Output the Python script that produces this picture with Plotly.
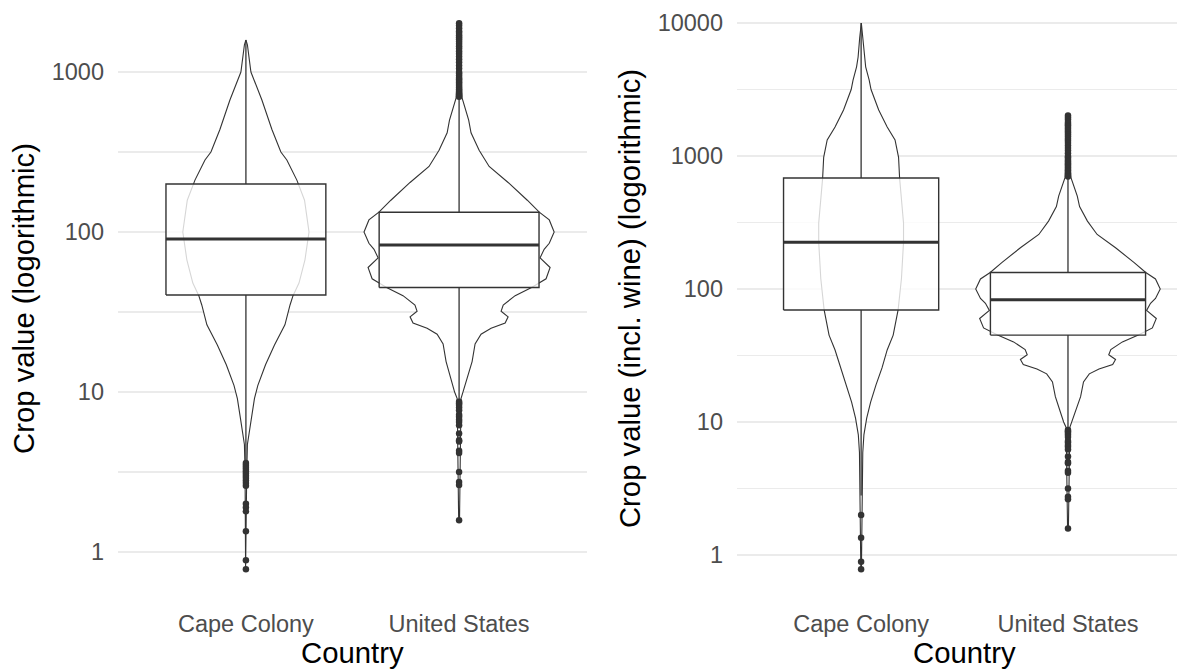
import plotly.graph_objects as go

# ---------------- data ----------------
categories = ["Cape Colony", "United States"]

# Box statistics (q1, median, q3, lower whisker end, upper whisker end)
cape_crop_stats = [40.4, 90.4, 199.5, 3.65, 1585]
us_crop_stats = [45.0, 83.0, 133.0, 8.9, 690]
cape_wine_stats = [69.5, 225.0, 684.0, 2.8, 10000]

# Violin outlines: crop value and half-width (relative density, category units)
cape_crop_vals = [1585, 1480, 1000, 668, 437, 316, 282, 211, 158, 100, 67, 48, 40, 35, 26.3,
                  19.7, 14.8, 11.0, 9.1, 6.9, 4.7, 3.2, 0.78]
cape_crop_dens = [0.0, 0.007, 0.0235, 0.075, 0.122, 0.164, 0.192, 0.239, 0.275, 0.296, 0.277,
                  0.249, 0.221, 0.207, 0.183, 0.134, 0.092, 0.056, 0.040, 0.026, 0.007, 0.004, 0.0015]

us_vals = [2020, 1000, 690, 500, 417, 324, 257, 204, 158, 133, 119, 100, 85, 78, 69, 60, 51,
           45, 40, 35, 32, 29.5, 27, 25, 23, 20, 15.5, 12.3, 10.0, 9.1, 1.58]
us_dens = [0.002, 0.007, 0.014, 0.045, 0.056, 0.094, 0.141, 0.230, 0.320, 0.376, 0.423, 0.446,
           0.423, 0.399, 0.380, 0.427, 0.408, 0.340, 0.263, 0.207, 0.197, 0.230, 0.216, 0.150,
           0.103, 0.075, 0.061, 0.040, 0.021, 0.009, 0.002]

cape_wine_vals = [10000, 7700, 5550, 4680, 3715, 3160, 2220, 1650, 1320, 977, 684, 313, 225,
                  120, 70, 45, 34.8, 25.5, 19.0, 14.1, 10.7, 8.0, 5.9, 2.8, 0.79]
cape_wine_dens = [0.001, 0.007, 0.0145, 0.022, 0.039, 0.048, 0.085, 0.126, 0.164, 0.181, 0.186,
                  0.205, 0.205, 0.195, 0.179, 0.155, 0.126, 0.101, 0.072, 0.046, 0.027, 0.0135,
                  0.008, 0.006, 0.0015]

# Outliers
cape_crop_out = [3.6, 3.5, 3.4, 3.3, 3.2, 3.1, 3.0, 2.9, 2.8, 2.7, 2.6, 2.0, 1.9, 1.8, 1.35, 0.89, 0.78]
us_out = [2020, 1950, 1880, 1800, 1750, 1700, 1650, 1600, 1550, 1500, 1450, 1400, 1350, 1300,
          1250, 1200, 1150, 1100, 1050, 1000, 980, 950, 920, 900, 880, 860, 840, 820, 800, 780,
          760, 740, 720, 700,
          8.7, 8.5, 8.3, 8.0, 7.7, 7.2, 7.0, 6.7, 6.5, 6.2, 5.5, 5.0, 4.9, 4.3, 4.16, 3.16,
          2.74, 2.62, 1.58]
cape_wine_out = [2.0, 1.35, 0.89, 0.78]

y_ticks_left = [1, 10, 100, 1000]
y_ticks_right = [1, 10, 100, 1000, 10000]
y_minor_left = [3.162, 31.62, 316.2]
y_minor_right = [3.162, 31.62, 316.2, 3162]

# ---------------- style ----------------
DARK = "#333333"
FONT = "Liberation Sans, Arial, sans-serif"
TICK_SIZE = 23.5
TITLE_SIZE = 29.3
BOX_W = 0.75

fig = go.Figure()


def add_group(pos, stats, vals, dens, outs, xa, ya):
    # violin
    vx = [pos + d for d in dens] + [pos - d for d in reversed(dens)]
    vy = list(vals) + list(reversed(vals))
    vx.append(vx[0]); vy.append(vy[0])
    fig.add_trace(go.Scatter(x=vx, y=vy, mode="lines", fill="toself", fillcolor="white",
                             line=dict(color=DARK, width=1.1), xaxis=xa, yaxis=ya,
                             hoverinfo="skip", showlegend=False))
    q1, med, q3, lo, hi = stats
    h = BOX_W / 2
    # whiskers
    fig.add_trace(go.Scatter(x=[pos, pos, None, pos, pos], y=[q3, hi, None, q1, lo], mode="lines",
                             line=dict(color=DARK, width=1.3), xaxis=xa, yaxis=ya,
                             hoverinfo="skip", showlegend=False))
    # box
    fig.add_trace(go.Scatter(x=[pos - h, pos + h, pos + h, pos - h, pos - h],
                             y=[q1, q1, q3, q3, q1], mode="lines", fill="toself",
                             fillcolor="rgba(255,255,255,0.8)",
                             line=dict(color=DARK, width=1.4), xaxis=xa, yaxis=ya,
                             hoverinfo="skip", showlegend=False))
    # median
    fig.add_trace(go.Scatter(x=[pos - h, pos + h], y=[med, med], mode="lines",
                             line=dict(color=DARK, width=3), xaxis=xa, yaxis=ya,
                             hoverinfo="skip", showlegend=False))
    # outliers
    fig.add_trace(go.Scatter(x=[pos] * len(outs), y=outs, mode="markers",
                             marker=dict(color=DARK, size=6.5, line=dict(width=0)),
                             xaxis=xa, yaxis=ya, hoverinfo="skip", showlegend=False))


add_group(1, cape_crop_stats, cape_crop_vals, cape_crop_dens, cape_crop_out, "x", "y")
add_group(2, us_crop_stats, us_vals, us_dens, us_out, "x", "y")
add_group(1, cape_wine_stats, cape_wine_vals, cape_wine_dens, cape_wine_out, "x2", "y2")
add_group(2, us_crop_stats, us_vals, us_dens, us_out, "x2", "y2")

W, H = 1177, 670
PB = 597  # panel bottom in px

xcommon = dict(showgrid=False, zeroline=False, showline=False, ticks="",
               tickvals=[1, 2], ticktext=categories,
               tickfont=dict(family=FONT, size=TICK_SIZE, color="#4D4D4D"),
               ticklabelstandoff=10)
ycommon = dict(type="log", showgrid=True, gridcolor="#EBEBEB", gridwidth=1.1,
               zeroline=False, showline=False, ticks="",
               tickfont=dict(family=FONT, size=TICK_SIZE, color="#4D4D4D"),
               ticklabelstandoff=13)

fig.update_layout(
    width=W, height=H, autosize=False,
    margin=dict(l=0, r=0, t=0, b=H - PB),
    plot_bgcolor="white", paper_bgcolor="white",
    font=dict(family=FONT),
    xaxis=dict(domain=[118 / W, 587 / W], range=[0.4, 2.6], anchor="y", **xcommon),
    yaxis=dict(anchor="x", range=[-0.281, 3.45],
               tickvals=y_ticks_left + y_minor_left,
               ticktext=[str(v) for v in y_ticks_left] + [""] * len(y_minor_left),
               title=dict(text="Crop value (logorithmic)",
                          font=dict(family=FONT, size=TITLE_SIZE, color="black"), standoff=8),
               **ycommon),
    xaxis2=dict(domain=[737 / W, 1.0], range=[0.4, 2.527], anchor="y2", **xcommon),
    yaxis2=dict(anchor="x2", range=[-0.316, 4.173],
                tickvals=y_ticks_right + y_minor_right,
                ticktext=[str(v) for v in y_ticks_right] + [""] * len(y_minor_right),
                title=dict(text="Crop value (incl. wine) (logorithmic)",
                           font=dict(family=FONT, size=TITLE_SIZE, color="black"), standoff=8),
                **ycommon),
    annotations=[
        dict(text="Country", xref="paper", yref="paper", x=352.5 / W, y=-(652 - PB) / PB,
             xanchor="center", yanchor="middle", showarrow=False,
             font=dict(family=FONT, size=TITLE_SIZE, color="black")),
        dict(text="Country", xref="paper", yref="paper", x=964.5 / W, y=-(652 - PB) / PB,
             xanchor="center", yanchor="middle", showarrow=False,
             font=dict(family=FONT, size=TITLE_SIZE, color="black")),
    ],
)

fig.write_html("out.html", config={"displayModeBar": False, "staticPlot": True},
               post_script="document.body.style.margin='0';document.body.style.overflow='hidden';")
